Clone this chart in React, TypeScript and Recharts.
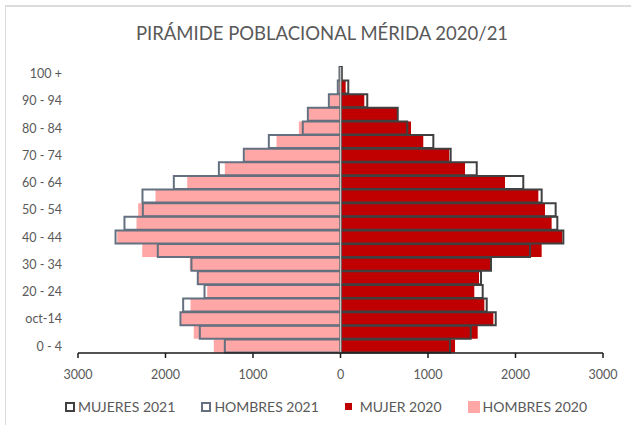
import React from "react";
import {
  Bar,
  BarChart,
  ReferenceLine,
  XAxis,
  YAxis,
} from "recharts";

// age groups, bottom (0 - 4) to top (100 +)
const ageGroups = [
  "0 - 4", "5 - 9", "oct-14", "15 - 19", "20 - 24", "25 - 29", "30 - 34",
  "35 - 39", "40 - 44", "45 - 49", "50 - 54", "55 - 59", "60 - 64", "65 - 69",
  "70 - 74", "75 - 79", "80 - 84", "85 - 89", "90 - 94", "95 - 99", "100 +",
];

const mujeres2021 = [
  1251, 1488, 1774, 1671, 1625, 1606, 1720, 2166, 2547, 2478, 2459,
  2299, 2089, 1557, 1259, 1061, 763, 654, 306, 89, 15,
];
const hombres2021 = [
  1322, 1608, 1829, 1798, 1554, 1631, 1703, 2088, 2571, 2469, 2259,
  2263, 1905, 1390, 1105, 819, 431, 373, 133, 31, 12,
];
const mujer2020 = [
  1309, 1568, 1747, 1644, 1529, 1583, 1709, 2299, 2535, 2413, 2337,
  2261, 1880, 1423, 1243, 946, 806, 650, 272, 59, 10,
];
const hombres2020 = [
  1448, 1677, 1821, 1714, 1523, 1638, 1722, 2266, 2552, 2331, 2312,
  2114, 1752, 1322, 1093, 731, 476, 362, 122, 25, 8,
];

const xTicks = [-3000, -2000, -1000, 0, 1000, 2000, 3000];

const data = ageGroups.map((age, i) => ({
  age,
  m21: mujeres2021[i],
  h21: -hombres2021[i],
  m20: mujer2020[i],
  h20: -hombres2020[i],
}));

const FONT = "Lato, Carlito, Calibri, sans-serif";
const GREY_TEXT = "#595959";

const legendItems = [
  { label: "MUJERES 2021", kind: "outline", color: "#404040", size: 10 },
  { label: "HOMBRES 2021", kind: "outline", color: "#64707f", size: 10 },
  { label: "MUJER 2020", kind: "fill", color: "#c00000", size: 7 },
  { label: "HOMBRES 2020", kind: "fill", color: "#ffa7a7", size: 12 },
];

function ChartLegend() {
  return (
    <div
      style={{
        position: "absolute",
        top: 398,
        left: 0,
        width: 652,
        display: "flex",
        justifyContent: "center",
        gap: 26,
        fontFamily: FONT,
        fontSize: 14,
        color: GREY_TEXT,
      }}
    >
      {legendItems.map((it) => (
        <div key={it.label} style={{ display: "flex", alignItems: "center", gap: 3 }}>
          <span
            style={{
              display: "inline-block",
              boxSizing: "border-box",
              width: it.size,
              height: it.size,
              background: it.kind === "fill" ? it.color : "#fff",
              border: it.kind === "outline" ? `2px solid ${it.color}` : "none",
              marginRight: it.kind === "fill" && it.size < 10 ? 5 : 0,
            }}
          />
          <span>{it.label}</span>
        </div>
      ))}
    </div>
  );
}

export default function App() {
  return (
    <div
      style={{
        position: "absolute",
        left: 0,
        top: 0,
        width: 631,
        height: 425,
        background: "#fff",
        overflow: "hidden",
      }}
    >
      <div
        style={{
          position: "absolute",
          left: 5,
          top: 5,
          width: 700,
          height: 500,
          borderTop: "2px solid #dcdcdc",
          borderLeft: "1px solid #dcdcdc",
        }}
      />
      <div
        style={{
          position: "absolute",
          top: 22,
          left: 0,
          width: 644,
          textAlign: "center",
          fontFamily: FONT,
          fontSize: 18.5,
          color: GREY_TEXT,
        }}
      >
        PIRÁMIDE POBLACIONAL MÉRIDA 2020/21
      </div>
      <BarChart
        width={631}
        height={425}
        data={data}
        layout="vertical"
        margin={{ top: 67, right: 28, bottom: 42, left: 0 }}
        barGap={-13}
        barSize={13}
        style={{ position: "absolute", left: 0, top: 0 }}
      >
        <XAxis
          type="number"
          domain={[-3000, 3000]}
          ticks={xTicks}
          tickFormatter={(v) => String(Math.abs(v))}
          axisLine={{ stroke: "#1a1a1a", strokeWidth: 1.5 }}
          tickLine={{ stroke: "#1a1a1a", strokeWidth: 1.5 }}
          tickSize={5}
          tickMargin={12}
          height={30}
          tick={{ fill: GREY_TEXT, fontSize: 12.5, fontFamily: FONT }}
        />
        <YAxis
          type="category"
          dataKey="age"
          reversed
          interval={1}
          width={78}
          axisLine={false}
          tickLine={false}
          tickSize={0}
          tickMargin={16}
          tick={{ fill: GREY_TEXT, fontSize: 12.5, fontFamily: FONT }}
        />
        <Bar dataKey="h20" name="HOMBRES 2020" fill="#ffa7a7" isAnimationActive={false} />
        <Bar dataKey="m20" name="MUJER 2020" fill="#c00000" isAnimationActive={false} />
        <ReferenceLine x={0} stroke="#c4c4c4" strokeWidth={1.5} />
        <Bar
          dataKey="h21"
          name="HOMBRES 2021"
          fill="none"
          stroke="#64707f"
          strokeWidth={2}
          isAnimationActive={false}
        />
        <Bar
          dataKey="m21"
          name="MUJERES 2021"
          fill="none"
          stroke="#404040"
          strokeWidth={2}
          isAnimationActive={false}
        />
      </BarChart>
      <ChartLegend />
    </div>
  );
}
